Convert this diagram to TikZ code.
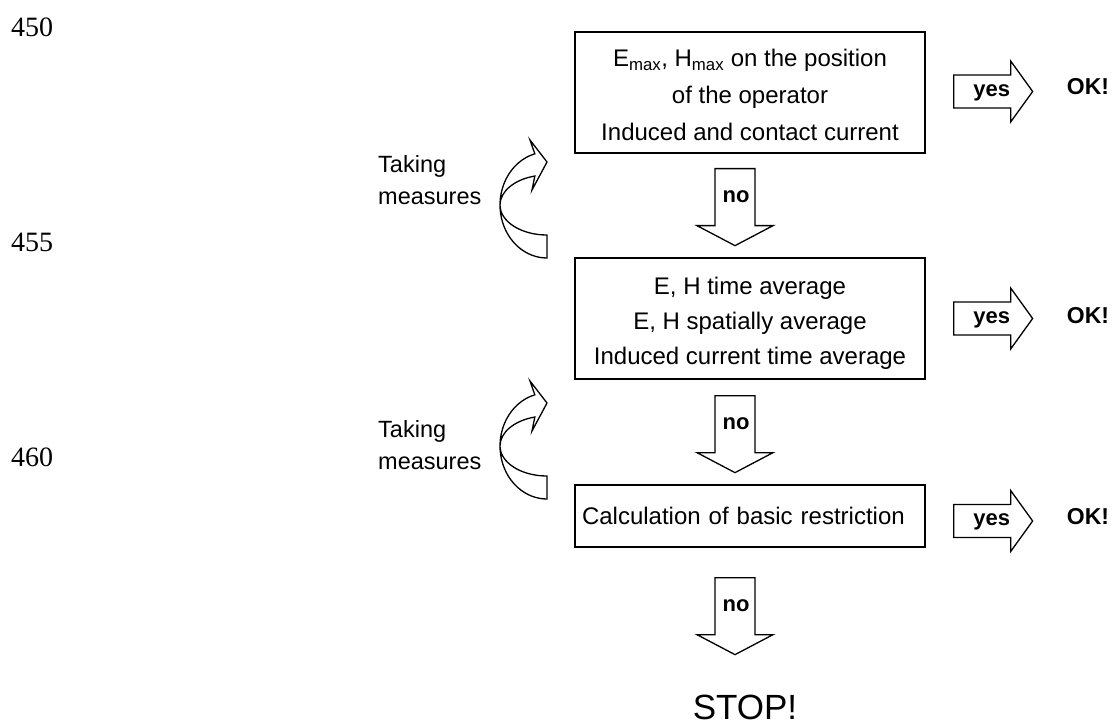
\documentclass[tikz,border=0pt]{standalone}
\usepackage{fontspec}
\setmainfont{Liberation Sans}
\newfontfamily\linenofont{Liberation Serif}
\usetikzlibrary{calc}

\tikzset{
	stepbox/.style={draw, line width=1.3pt, minimum width=350pt, minimum height=121pt, align=center, inner sep=0pt},
	blockline/.style={draw, line width=1.3pt, line join=miter},
	tag/.style={font=\bfseries\fontsize{22}{24}\selectfont, inner sep=0pt},
	okstyle/.style={font=\bfseries\fontsize{23}{25}\selectfont, inner sep=0pt, anchor=west},
	note/.style={font=\fontsize{23.5}{32}\selectfont, inner sep=0pt, align=left, anchor=west},
	lineno/.style={font=\linenofont\fontsize{28}{30}\selectfont, inner sep=0pt},
	noarrow/.pic={\draw[blockline] (-20,0) -- (20,0) -- (20,57) -- (38,57) -- (0,77) -- (-38,57) -- (-20,57) -- cycle;},
	yesarrow/.pic={\draw[blockline] (0,-16.5) -- (57,-16.5) -- (57,-30.5) -- (79,0) -- (57,30.5) -- (57,16.5) -- (0,16.5) -- cycle;},
	turnarrow/.pic={\draw[blockline] (-12.16,-51.19) arc[start angle=105, end angle=270, x radius=47pt, y radius=53pt]
		-- (0,30) arc[start angle=270, end angle=105, x radius=47pt, y radius=30pt]
		-- (-15,-15) -- (0,-43) -- (-17,-65) -- cycle;}
}

\begin{document}
\begin{tikzpicture}[x=1pt, y=-1pt]
	\useasboundingbox (0,0) rectangle (1114,727);
	% line numbers
	\node[lineno] (l450) at (32,27.5) {450};
	\node[lineno] (l455) at (32,242.5) {455};
	\node[lineno] (l460) at (32,457.5) {460};
	% the three checks
	\node[stepbox, font=\fontsize{24}{37}\selectfont] (b1) at (750,92.5) {\rule{0pt}{23pt}E\textsubscript{max}, H\textsubscript{max} on the position\\of the operator\\Induced and contact current};
	\node[stepbox, font=\fontsize{24}{35}\selectfont] (b2) at (750,318.5) {\rule{0pt}{27pt}E, H time average\\E, H spatially average\\Induced current time average};
	\node[stepbox, minimum height=62pt, text width=336pt, align=left, inner xsep=7pt, font=\fontsize{24}{30}\selectfont] (b3) at (750,516) {Calculation of basic restriction};
	% no arrows
	\coordinate (n1) at ($(b1.south)+(-15,15)$);
	\coordinate (n2) at ($(b2.south)+(-15,16)$);
	\coordinate (n3) at ($(b3.south)+(-15,30)$);
	\pic at (n1) {noarrow};
	\pic at (n2) {noarrow};
	\pic at (n3) {noarrow};
	\node[tag] (no1) at ($(n1)+(1,28)$) {no};
	\node[tag] (no2) at ($(n2)+(1,28)$) {no};
	\node[tag] (no3) at ($(n3)+(1,28)$) {no};
	% yes arrows
	\coordinate (y1) at ($(b1.east)+(28,-1)$);
	\coordinate (y2) at ($(b2.east)+(28,0)$);
	\coordinate (y3) at ($(b3.east)+(28,5)$);
	\pic at (y1) {yesarrow};
	\pic at (y2) {yesarrow};
	\pic at (y3) {yesarrow};
	\node[tag] (yes1) at ($(y1)+(38,1)$) {yes};
	\node[tag] (yes2) at ($(y2)+(38,1)$) {yes};
	\node[tag] (yes3) at ($(y3)+(38,1)$) {yes};
	\node[okstyle] (ok1) at ($(y1)+(113,-5)$) {OK!};
	\node[okstyle] (ok2) at ($(y2)+(113,-3)$) {OK!};
	\node[okstyle] (ok3) at ($(y3)+(113,-4)$) {OK!};
	% taking measures
	\pic at (547,205) {turnarrow};
	\pic at (547,446) {turnarrow};
	\node[note] (m1) at (378,180.5) {Taking\\measures};
	\node[note] (m2) at (378,445.5) {Taking\\measures};
	\node[font=\fontsize{35}{40}\selectfont, inner sep=0pt] (stop) at (745,707.5) {STOP!};
\end{tikzpicture}
\end{document}
